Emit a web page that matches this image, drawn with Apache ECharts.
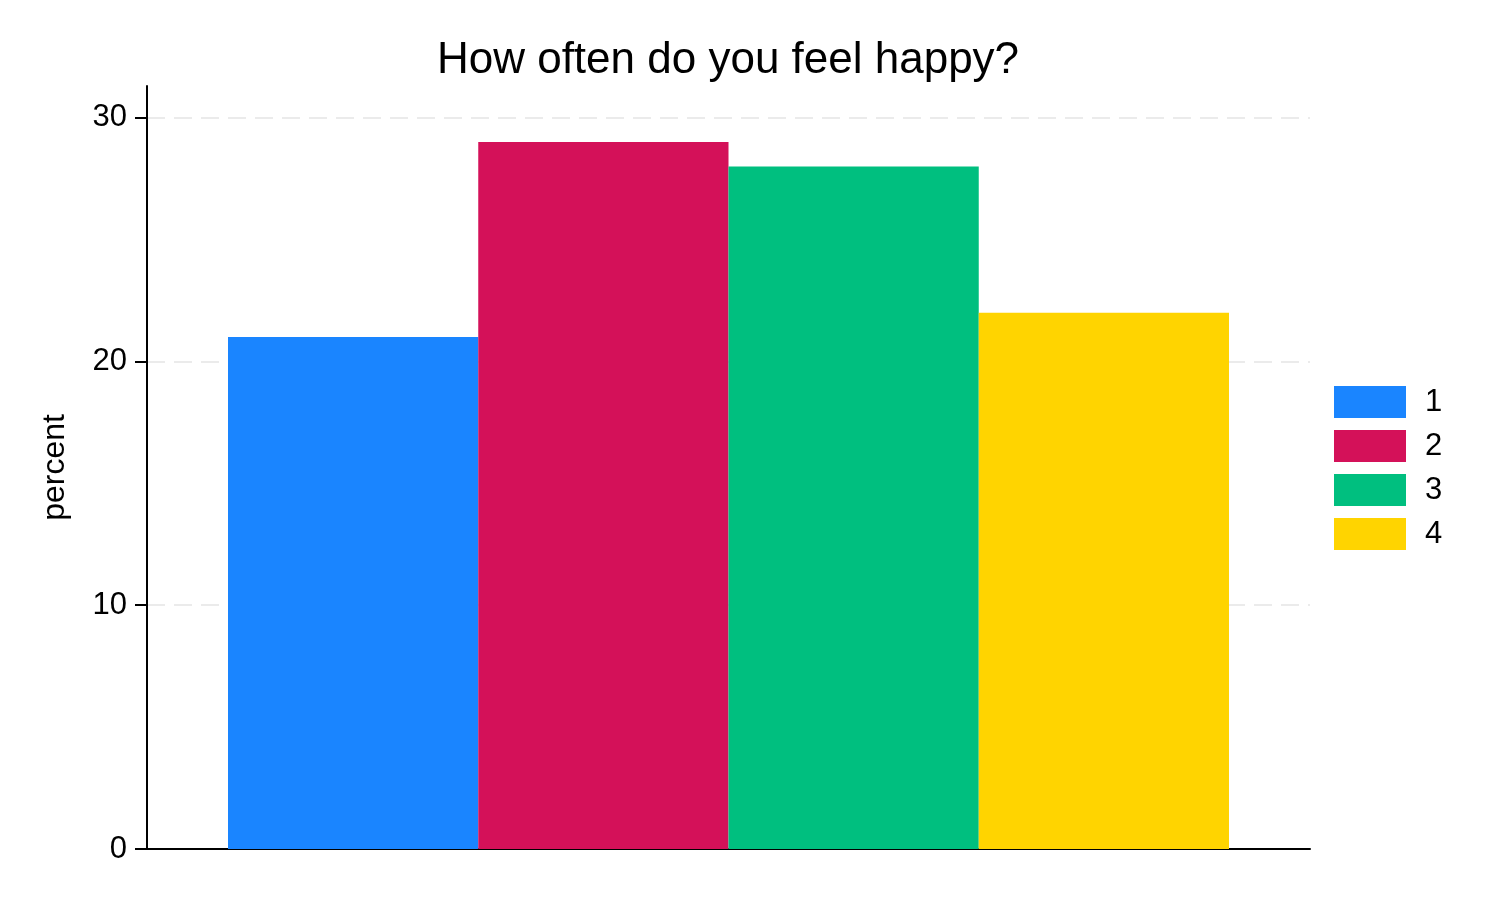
<!DOCTYPE html>
<html>
<head>
<meta charset="utf-8">
<script src="https://cdn.jsdelivr.net/npm/echarts@6/dist/echarts.min.js"></script>
<style>
html,body{margin:0;padding:0;background:#fff;}
#chart{width:1500px;height:900px;}
</style>
</head>
<body>
<div id="chart"></div>
<script>
var titleText = 'How often do you feel happy?';
var seriesNames = ['1', '2', '3', '4'];
var percentValues = [21, 29, 28, 22];
var seriesColors = ['#1A85FF', '#D41159', '#00BF7F', '#FFD400'];
var yTickValues = [0, 10, 20, 30];
var yAxisTitle = 'percent';

var FONT = '"Liberation Sans", Arial, Helvetica, sans-serif';

var series = seriesNames.map(function (name, i) {
  return {
    name: name,
    type: 'bar',
    data: [percentValues[i]],
    barGap: '0%',
    barCategoryGap: '13.93%',
    itemStyle: { color: seriesColors[i] },
    emphasis: { disabled: true }
  };
});

var chart = echarts.init(document.getElementById('chart'), null, { renderer: 'canvas' });
chart.setOption({
  animation: false,
  backgroundColor: '#ffffff',
  title: {
    text: titleText,
    left: 728,
    top: 39,
    padding: 0,
    textAlign: 'center',
    textStyle: { fontFamily: FONT, fontSize: 44, fontWeight: 'normal', color: '#000' }
  },
  legend: {
    orient: 'vertical',
    left: 1334,
    top: 386,
    padding: 0,
    itemWidth: 72,
    itemHeight: 32,
    itemGap: 12,
    icon: 'rect',
    data: seriesNames,
    textStyle: { fontFamily: FONT, fontSize: 31, color: '#000', padding: [8, 0, 0, 14] }
  },
  grid: { left: 147, right: 190, top: 86, bottom: 51, containLabel: false },
  xAxis: {
    type: 'category',
    data: [''],
    axisLine: { lineStyle: { color: '#000', width: 2 } },
    axisTick: { show: false },
    axisLabel: { show: false },
    splitLine: { show: false }
  },
  yAxis: {
    type: 'value',
    min: 0,
    max: 31.3,
    interval: 10,
    name: yAxisTitle,
    nameLocation: 'middle',
    nameRotate: 90,
    nameGap: 76,
    nameTextStyle: { fontFamily: FONT, fontSize: 32, color: '#000' },
    axisLine: { show: true, lineStyle: { color: '#000', width: 2 } },
    axisTick: { show: true, length: 12, lineStyle: { color: '#000', width: 2 }, customValues: yTickValues },
    axisLabel: { fontFamily: FONT, fontSize: 31, color: '#000', margin: 20, padding: [5, 0, 0, 0], customValues: yTickValues },
    splitLine: { show: true, lineStyle: { color: '#EBEBEB', width: 2, type: [18, 9] } }
  },
  series: series
});
</script>
</body>
</html>
